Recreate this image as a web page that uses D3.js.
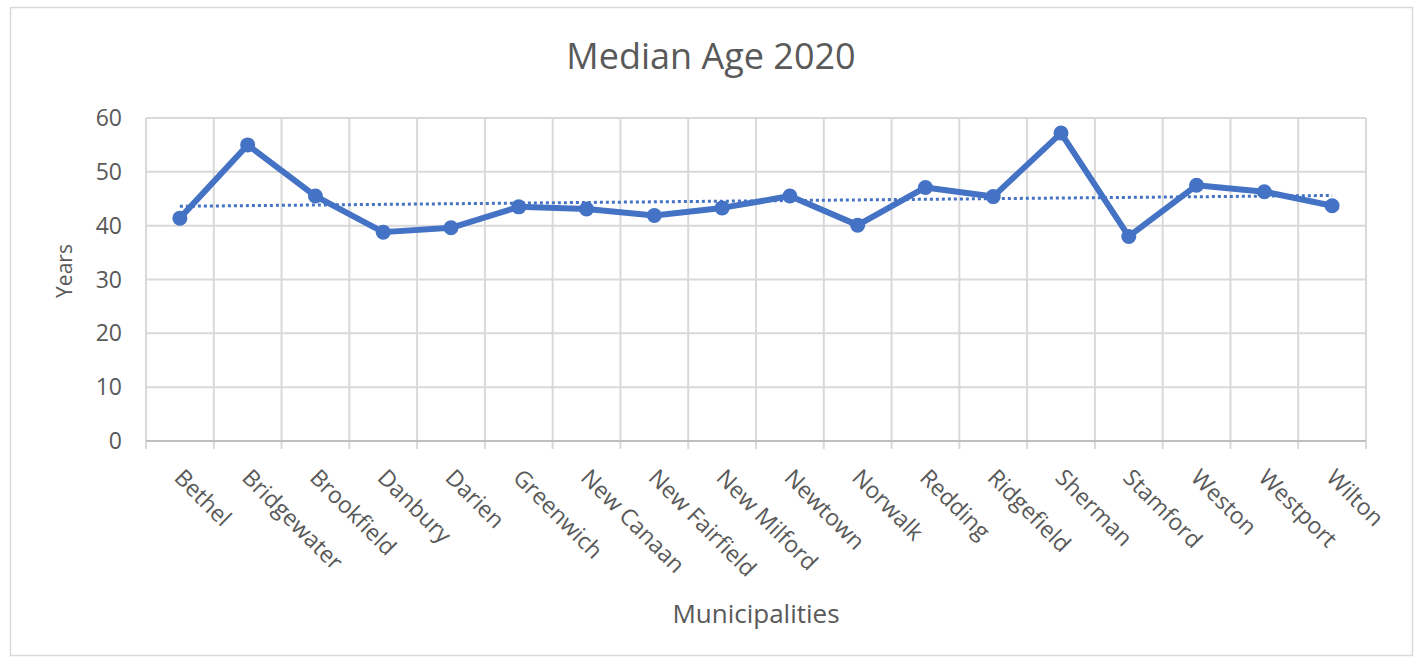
<!DOCTYPE html>
<html>
<head>
  <meta charset="utf-8">
  <title>Median Age 2020</title>
  <style>
    body { margin: 0; background: #fff; font-family: "Open Sans", Lato, sans-serif; }
  </style>
</head>
<body>
  <svg id="chart"></svg>
  <script src="https://cdn.jsdelivr.net/npm/d3@7"></script>
  <script>
    var width = 1418, height = 659;
    var margin = { top: 118, left: 146, bottom: 218, right: 52 };

    // data
    var municipalities = ["Bethel", "Bridgewater", "Brookfield", "Danbury", "Darien", "Greenwich",
      "New Canaan", "New Fairfield", "New Milford", "Newtown", "Norwalk", "Redding",
      "Ridgefield", "Sherman", "Stamford", "Weston", "Westport", "Wilton"];
    var medianAge = [41.4, 55.0, 45.5, 38.8, 39.6, 43.5, 43.1, 41.9, 43.3, 45.5, 40.1, 47.1,
      45.4, 57.2, 38.0, 47.5, 46.3, 43.7];
    var yTicks = [0, 10, 20, 30, 40, 50, 60];

    var blue = "#4472c4";
    var textColor = "#595959";

    var svg = d3.select("#chart")
      .attr("width", width)
      .attr("height", height);

    // chart frame
    svg.append("rect")
      .attr("x", 10.5).attr("y", 7.5)
      .attr("width", 1402).attr("height", 648)
      .attr("fill", "white")
      .attr("stroke", "#d9d9d9")
      .attr("stroke-width", 1.5);

    var x = d3.scaleBand()
      .domain(municipalities)
      .range([margin.left, width - margin.right]);

    var y = d3.scaleLinear()
      .domain([0, 60])
      .range([height - margin.bottom, margin.top]);

    // horizontal gridlines
    svg.append("g").selectAll("line")
      .data(yTicks)
      .join("line")
      .attr("x1", x.range()[0]).attr("x2", x.range()[1])
      .attr("y1", d => y(d)).attr("y2", d => y(d))
      .attr("stroke", "#d9d9d9")
      .attr("stroke-width", 2);

    // vertical gridlines at category edges
    var edges = municipalities.map(d => x(d)).concat([x.range()[1]]);
    svg.append("g").selectAll("line")
      .data(edges)
      .join("line")
      .attr("x1", d => d).attr("x2", d => d)
      .attr("y1", y(60)).attr("y2", y(0) + 8)
      .attr("stroke", "#d9d9d9")
      .attr("stroke-width", 2);

    // axis line
    svg.append("line")
      .attr("x1", x.range()[0]).attr("x2", x.range()[1])
      .attr("y1", y(0)).attr("y2", y(0))
      .attr("stroke", "#bfbfbf")
      .attr("stroke-width", 2);

    // y tick labels
    svg.append("g").selectAll("text")
      .data(yTicks)
      .join("text")
      .attr("x", margin.left - 24)
      .attr("y", d => y(d))
      .attr("dy", "0.35em")
      .attr("text-anchor", "end")
      .attr("fill", textColor)
      .attr("font-size", "23px")
      .text(d => d);

    // x tick labels, rotated 45 degrees
    svg.append("g").selectAll("text")
      .data(municipalities)
      .join("text")
      .attr("transform", d => "translate(" + (x(d) + x.bandwidth() / 2 - 7) + "," + (y(0) + 38) + ") rotate(45)")
      .attr("text-anchor", "start")
      .attr("fill", textColor)
      .attr("font-size", "23px")
      .text(d => d);

    // linear trendline (least squares over the points)
    var n = medianAge.length;
    var meanI = d3.mean(medianAge, (d, i) => i);
    var meanV = d3.mean(medianAge);
    var slope = d3.sum(medianAge, (d, i) => (i - meanI) * (d - meanV)) /
      d3.sum(medianAge, (d, i) => (i - meanI) * (i - meanI));
    var trend = [0, n - 1].map(i => [i, meanV + slope * (i - meanI)]);
    var cx = i => x(municipalities[i]) + x.bandwidth() / 2;

    svg.append("path")
      .datum(trend)
      .attr("d", d3.line().x(d => cx(d[0])).y(d => y(d[1])))
      .attr("fill", "none")
      .attr("stroke", blue)
      .attr("stroke-width", 3)
      .attr("stroke-dasharray", "3,3");

    // main line
    var pts = medianAge.map((v, i) => [i, v]);
    svg.append("path")
      .datum(pts)
      .attr("d", d3.line().x(d => cx(d[0])).y(d => y(d[1])))
      .attr("fill", "none")
      .attr("stroke", blue)
      .attr("stroke-width", 6)
      .attr("stroke-linejoin", "round");

    svg.append("g").selectAll("circle")
      .data(pts)
      .join("circle")
      .attr("cx", d => cx(d[0]))
      .attr("cy", d => y(d[1]))
      .attr("r", 7.5)
      .attr("fill", blue);

    // titles
    svg.append("text")
      .attr("x", 711).attr("y", 69)
      .attr("text-anchor", "middle")
      .attr("fill", textColor)
      .attr("font-size", "36px")
      .text("Median Age 2020");

    svg.append("text")
      .attr("transform", "translate(72,271) rotate(-90)")
      .attr("text-anchor", "middle")
      .attr("fill", textColor)
      .attr("font-size", "21px")
      .text("Years");

    svg.append("text")
      .attr("x", 756).attr("y", 623)
      .attr("text-anchor", "middle")
      .attr("fill", textColor)
      .attr("font-size", "26px")
      .text("Municipalities");
  </script>
</body>
</html>
